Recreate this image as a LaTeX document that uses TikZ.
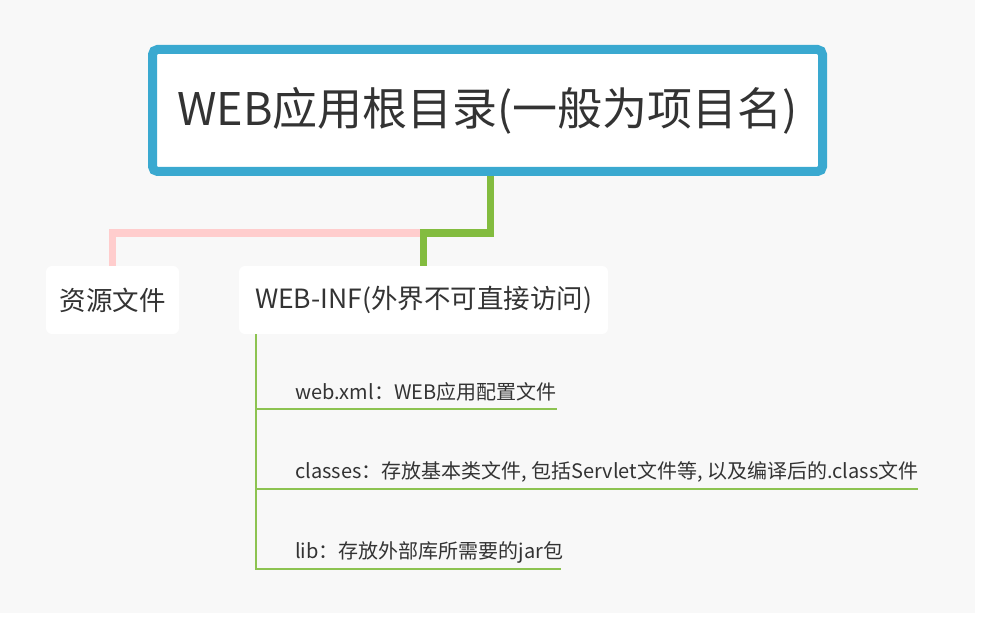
\documentclass[tikz,border=0pt]{standalone}
\usepackage{fontspec}
\setmainfont{Noto Sans CJK SC}
\definecolor{bgc}{HTML}{F8F8F8}
\definecolor{rootblue}{HTML}{3AA9D0}
\definecolor{thickgreen}{HTML}{83BC3F}
\definecolor{pinkline}{HTML}{FFCDCD}
\definecolor{thingreen}{HTML}{8DC351}
\definecolor{txt}{HTML}{333333}
\tikzset{
  rootbox/.style={draw=rootblue, line width=9pt, fill=white, rounded corners=5pt,
    minimum width=670pt, minimum height=122pt, text=txt, inner sep=0pt,
    font=\fontsize{45}{52}\selectfont},
  childbox/.style={fill=white, rounded corners=6pt, minimum height=68pt, text=txt,
    inner sep=0pt, font=\fontsize{26.5}{30}\selectfont},
  itemtext/.style={text=txt, inner sep=0pt, anchor=west, font=\fontsize{20}{24}\selectfont},
  greenconn/.style={draw=thickgreen, line width=7.5pt, line join=miter},
  pinkconn/.style={draw=pinkline, line width=7.5pt, line join=miter},
  itemline/.style={draw=thingreen, line width=1.3pt},
}
\begin{document}
\begin{tikzpicture}[x=1pt,y=-1pt]
\useasboundingbox (0,0) rectangle (981,617);
\fill[bgc] (0,0) rectangle (975,613);
\node[rootbox] (root) at (487.5,110.5) {WEB应用根目录(一般为项目名)};
\node[childbox, minimum width=133pt] (res) at (112.5,300) {资源文件};
\node[childbox, minimum width=369pt] (webinf) at (423.5,300) {WEB-INF(外界不可直接访问)};
\coordinate (fork) at (423.5,233);
\draw[pinkconn] (fork) -| (res.north);
\draw[greenconn] ([xshift=3pt]root.south) |- (fork) -- (webinf.north);
\coordinate (stem) at (256,334);
\node[itemtext] (i1) at (295,392) {web.xml：WEB应用配置文件};
\node[itemtext] (i2) at (295,472) {classes：存放基本类文件, 包括Servlet文件等, 以及编译后的.class文件};
\node[itemtext] (i3) at (295,552) {lib：存放外部库所需要的jar包};
\coordinate (e1) at (557,409);
\coordinate (e2) at (918,489);
\coordinate (e3) at (561,569);
\draw[itemline] (stem) |- (e3);
\draw[itemline] (stem) |- (e2);
\draw[itemline] (stem) |- (e1);
\end{tikzpicture}
\end{document}
